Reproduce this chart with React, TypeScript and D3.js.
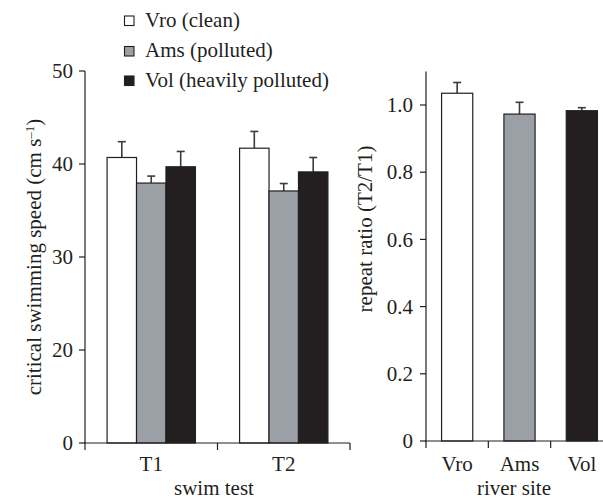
import * as d3 from "d3";
import React from "react";

// swim tests and river sites
const tests = ["T1", "T2"];
const sites = ["Vro", "Ams", "Vol"];
const legendLabels = ["Vro (clean)", "Ams (polluted)", "Vol (heavily polluted)"];

// critical swimming speed (cm s-1), mean and error, per site for each test
const speedT1 = [40.7, 37.95, 39.7];
const speedT2 = [41.7, 37.1, 39.15];
const errT1 = [1.7, 0.75, 1.65];
const errT2 = [1.8, 0.8, 1.55];

// repeat ratio T2/T1
const ratio = [1.035, 0.973, 0.983];
const ratioErr = [0.032, 0.035, 0.009];

// left axis: ticks are evenly spaced, the bottom one is labelled 0
const speedTicks = [10, 20, 30, 40, 50];
const speedTickLabels = ["0", "20", "30", "40", "50"];
const ratioTicks = [0, 0.2, 0.4, 0.6, 0.8, 1.0];

const colors = ["#ffffff", "#9ba0a7", "#231f20"];
const ink = "#231f20";
const font = "'Liberation Serif', 'Times New Roman', serif";
const fs = 21;

export default function App() {
  const width = 603;
  const height = 501;

  // left panel
  const xL = d3.scaleBand().domain(tests).range([85, 350]);
  const stepL = xL.step();
  const xInner = d3.scaleBand().domain(sites).range([stepL / 6, (stepL * 5) / 6]);
  const yL = d3.scaleLinear().domain([10, 50]).range([443, 71]);
  const speeds = [speedT1, speedT2];
  const errs = [errT1, errT2];

  // right panel
  const xR = d3.scaleBand().domain(sites).range([426, 613]).paddingInner(0.5).paddingOuter(0.25);
  const yR = d3.scaleLinear().domain([0, 1.1]).range([441, 71.4]);

  const capW = 8;

  return (
    <svg width={width} height={height} style={{ position: "absolute", left: 0, top: 0, background: "#fff" }}
      fontFamily={font} fontSize={fs} fill={ink}>
      {/* legend */}
      {legendLabels.map((l, i) => (
        <g key={l} transform={`translate(124,${[16, 46.5, 76][i]})`}>
          <rect x={0.5} y={0} width={9.5} height={9.5} fill={colors[i]} stroke={ink} strokeWidth={1.1} />
          <text x={21} y={10.5}>{l}</text>
        </g>
      ))}

      {/* left bars */}
      {tests.map((t, ti) => (
        <g key={t} transform={`translate(${xL(t)},0)`}>
          {sites.map((s, si) => {
            const v = speeds[ti][si];
            const e = errs[ti][si];
            const x0 = xInner(s)!;
            const cx = x0 + xInner.bandwidth() / 2;
            return (
              <g key={s}>
                <line x1={cx} x2={cx} y1={yL(v)} y2={yL(v + e)} stroke="#3c3c3c" strokeWidth={1.6} />
                <line x1={cx - capW / 2} x2={cx + capW / 2} y1={yL(v + e)} y2={yL(v + e)} stroke="#3c3c3c" strokeWidth={1.6} />
                <rect x={x0} y={yL(v)} width={xInner.bandwidth()} height={yL(10) - yL(v)}
                  fill={colors[si]} stroke={ink} strokeWidth={1.2} />
              </g>
            );
          })}
        </g>
      ))}

      {/* left y axis */}
      <line x1={85} x2={85} y1={yL(50)} y2={yL(10)} stroke={ink} strokeWidth={1.2} />
      {speedTicks.map((t, i) => (
        <g key={t}>
          <line x1={79} x2={85} y1={yL(t)} y2={yL(t)} stroke={ink} strokeWidth={1.2} />
          <text x={73} y={yL(t)} textAnchor="end" dy="0.34em">{speedTickLabels[i]}</text>
        </g>
      ))}
      {/* left x axis */}
      <line x1={84} x2={350} y1={443} y2={443} stroke={ink} strokeWidth={1.2} />
      {[...tests.map((t) => xL(t)!), 350].map((x, i) => (
        <line key={i} x1={x} x2={x} y1={443} y2={450} stroke={ink} strokeWidth={1.2} />
      ))}
      {tests.map((t) => (
        <text key={t} x={xL(t)! + stepL / 2} y={471} textAnchor="middle">{t}</text>
      ))}
      <text x={214} y={495} textAnchor="middle">swim test</text>
      <text transform={`translate(41,${(yL(50) + yL(10)) / 2}) rotate(-90)`} textAnchor="middle">
        critical swimming speed (cm s<tspan dy={-7} fontSize={13}>–1</tspan><tspan dy={7}>)</tspan>
      </text>

      {/* right bars */}
      {sites.map((s, i) => {
        const v = ratio[i];
        const e = ratioErr[i];
        const x0 = xR(s)!;
        const cx = x0 + xR.bandwidth() / 2;
        return (
          <g key={s}>
            <line x1={cx} x2={cx} y1={yR(v)} y2={yR(v + e)} stroke="#3c3c3c" strokeWidth={1.6} />
            <line x1={cx - capW / 2} x2={cx + capW / 2} y1={yR(v + e)} y2={yR(v + e)} stroke="#3c3c3c" strokeWidth={1.6} />
            <rect x={x0} y={yR(v)} width={xR.bandwidth()} height={yR(0) - yR(v)}
              fill={colors[i]} stroke={ink} strokeWidth={1.2} />
          </g>
        );
      })}

      {/* right y axis */}
      <line x1={426} x2={426} y1={yR(1.1)} y2={yR(0)} stroke={ink} strokeWidth={1.2} />
      {ratioTicks.map((t) => (
        <g key={t}>
          <line x1={420} x2={426} y1={yR(t)} y2={yR(t)} stroke={ink} strokeWidth={1.2} />
          <text x={413} y={yR(t)} textAnchor="end" dy="0.34em">{t === 0 ? "0" : d3.format(".1f")(t)}</text>
        </g>
      ))}
      {/* right x axis */}
      <line x1={425} x2={613} y1={yR(0)} y2={yR(0)} stroke={ink} strokeWidth={1.2} />
      {sites.map((s) => {
        const x = xR(s)! - (xR.step() * xR.paddingInner()) / 2;
        return <line key={s} x1={x} x2={x} y1={yR(0)} y2={yR(0) + 7} stroke={ink} strokeWidth={1.2} />;
      })}
      {sites.map((s) => (
        <text key={s} x={xR(s)! + xR.bandwidth() / 2} y={471} textAnchor="middle">{s}</text>
      ))}
      <text x={514} y={495} textAnchor="middle">river site</text>
      <text transform={`translate(372,229) rotate(-90)`} textAnchor="middle">repeat ratio (T2/T1)</text>
    </svg>
  );
}
